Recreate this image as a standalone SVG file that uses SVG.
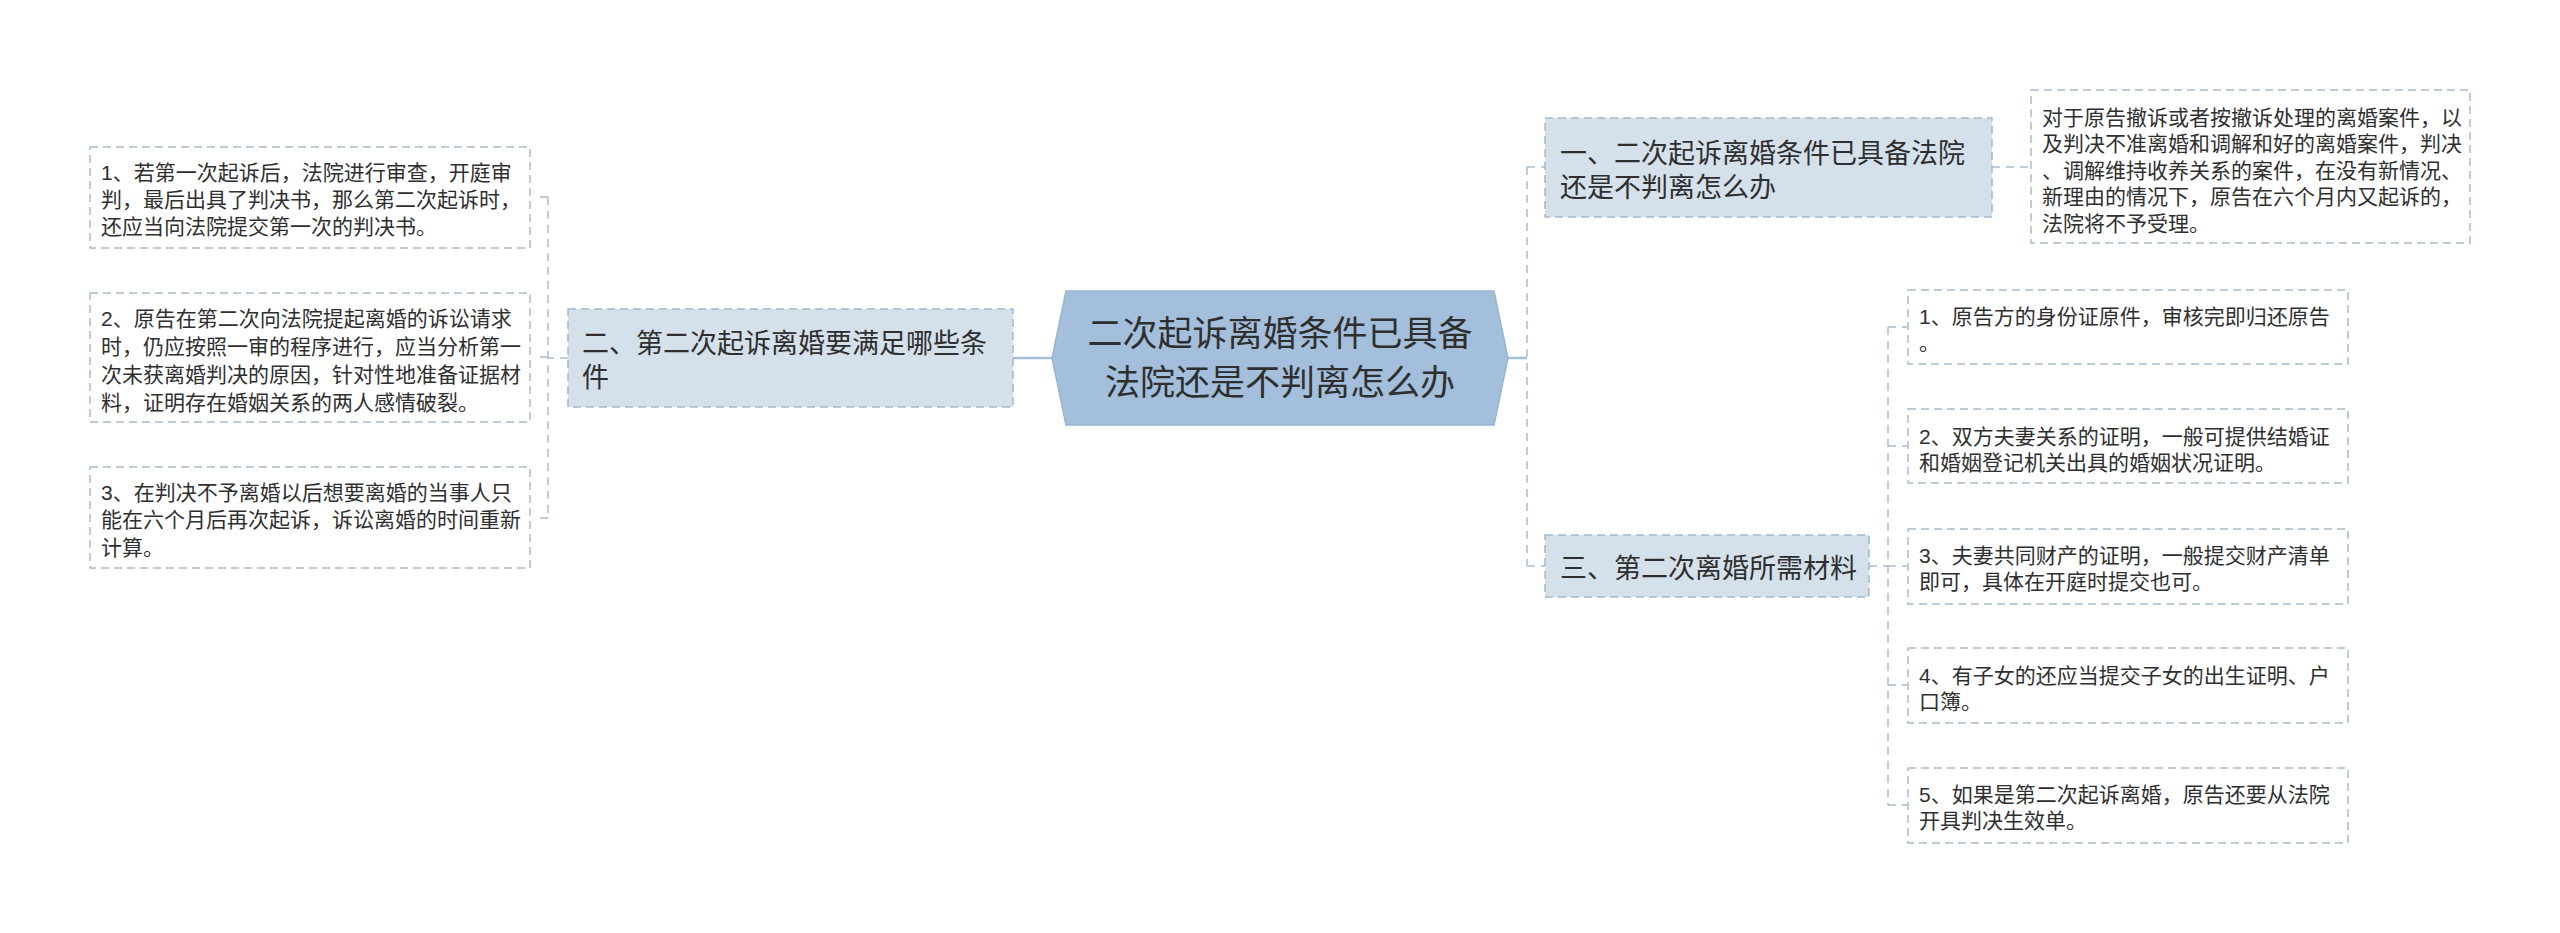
<svg xmlns="http://www.w3.org/2000/svg" width="2560" height="933" viewBox="0 0 2560 933">
<style>
  text { font-family: "Liberation Sans", "Noto Sans CJK SC", sans-serif; fill: #2f2f2f; }
  .c { font-size: 35px; text-anchor: middle; }
  .n { font-size: 27px; }
  .d { font-size: 21px; }
  .node { fill: #d4e0ea; stroke: #a3b8ca; stroke-width: 1.5; stroke-dasharray: 8 5; }
  .box { fill: #ffffff; stroke: #a9bccc; stroke-width: 1.5; stroke-dasharray: 8 5; }
  .con { fill: none; stroke: #a9bdd0; stroke-width: 1.5; stroke-dasharray: 8 6; }
  .solid { fill: none; stroke: #a3bfdb; stroke-width: 2.5; }
</style>
<rect width="2560" height="933" fill="#ffffff"/>
<g id="connectors">
  <path class="solid" d="M1013 358 H1052"/>
  <path class="solid" d="M1508 358 H1527"/>
  <path class="con" d="M568 358 H548 M548 197 V518 M548 197 H534 M548 357 H534 M548 518 H534"/>
  <path class="con" d="M1527 167 V566 M1527 167 H1545 M1527 566 H1545"/>
  <path class="con" d="M1992 167 H2031"/>
  <path class="con" d="M1869 566 H1888 M1888 327 V805 M1888 327 H1907 M1888 446 H1907 M1888 566 H1907 M1888 685 H1907 M1888 805 H1907"/>
</g>
<g id="center">
  <polygon points="1052,358 1066,291 1494,291 1508,358 1494,425 1066,425" fill="#a3bfdb" stroke="#98b5d2" stroke-width="1.5"/>
  <text class="c" x="1280" y="346">二次起诉离婚条件已具备</text>
  <text class="c" x="1280" y="395">法院还是不判离怎么办</text>
</g>
<g id="node1">
  <rect class="node" x="1545" y="118" width="447" height="99"/>
  <text class="n" x="1560" y="162.5">一、二次起诉离婚条件已具备法院</text>
  <text class="n" x="1560" y="196.5">还是不判离怎么办</text>
</g>
<g id="node1-detail">
  <rect class="box" x="2031" y="90" width="439" height="153"/>
  <text class="d" x="2042" y="124.5">对于原告撤诉或者按撤诉处理的离婚案件，以</text>
  <text class="d" x="2042" y="151">及判决不准离婚和调解和好的离婚案件，判决</text>
  <text class="d" x="2042" y="177.5">、调解维持收养关系的案件，在没有新情况、</text>
  <text class="d" x="2042" y="204">新理由的情况下，原告在六个月内又起诉的，</text>
  <text class="d" x="2042" y="230.5">法院将不予受理。</text>
</g>
<g id="node2">
  <rect class="node" x="568" y="309" width="445" height="98"/>
  <text class="n" x="582" y="353">二、第二次起诉离婚要满足哪些条</text>
  <text class="n" x="582" y="387">件</text>
</g>
<g id="node2-item1">
  <rect class="box" x="90" y="147" width="440" height="101"/>
  <text class="d" x="101" y="179.5">1、若第一次起诉后，法院进行审查，开庭审</text>
  <text class="d" x="101" y="206.5">判，最后出具了判决书，那么第二次起诉时，</text>
  <text class="d" x="101" y="233.5">还应当向法院提交第一次的判决书。</text>
</g>
<g id="node2-item2">
  <rect class="box" x="90" y="293" width="440" height="129"/>
  <text class="d" x="101" y="325.5">2、原告在第二次向法院提起离婚的诉讼请求</text>
  <text class="d" x="101" y="353.5">时，仍应按照一审的程序进行，应当分析第一</text>
  <text class="d" x="101" y="381.5">次未获离婚判决的原因，针对性地准备证据材</text>
  <text class="d" x="101" y="409.5">料，证明存在婚姻关系的两人感情破裂。</text>
</g>
<g id="node2-item3">
  <rect class="box" x="90" y="467" width="440" height="101"/>
  <text class="d" x="101" y="499.5">3、在判决不予离婚以后想要离婚的当事人只</text>
  <text class="d" x="101" y="527">能在六个月后再次起诉，诉讼离婚的时间重新</text>
  <text class="d" x="101" y="554.5">计算。</text>
</g>
<g id="node3">
  <rect class="node" x="1545" y="535" width="324" height="62"/>
  <text class="n" x="1560" y="578">三、第二次离婚所需材料</text>
</g>
<g id="node3-item1">
  <rect class="box" x="1908" y="290" width="440" height="74"/>
  <text class="d" x="1919" y="323.5">1、原告方的身份证原件，审核完即归还原告</text>
  <text class="d" x="1919" y="349.5">。</text>
</g>
<g id="node3-item2">
  <rect class="box" x="1908" y="409" width="440" height="74"/>
  <text class="d" x="1919" y="443.5">2、双方夫妻关系的证明，一般可提供结婚证</text>
  <text class="d" x="1919" y="469.5">和婚姻登记机关出具的婚姻状况证明。</text>
</g>
<g id="node3-item3">
  <rect class="box" x="1908" y="529" width="440" height="75"/>
  <text class="d" x="1919" y="562.5">3、夫妻共同财产的证明，一般提交财产清单</text>
  <text class="d" x="1919" y="589">即可，具体在开庭时提交也可。</text>
</g>
<g id="node3-item4">
  <rect class="box" x="1908" y="648" width="440" height="75"/>
  <text class="d" x="1919" y="682.5">4、有子女的还应当提交子女的出生证明、户</text>
  <text class="d" x="1919" y="709">口簿。</text>
</g>
<g id="node3-item5">
  <rect class="box" x="1908" y="768" width="440" height="75"/>
  <text class="d" x="1919" y="801.5">5、如果是第二次起诉离婚，原告还要从法院</text>
  <text class="d" x="1919" y="827.5">开具判决生效单。</text>
</g>
</svg>
